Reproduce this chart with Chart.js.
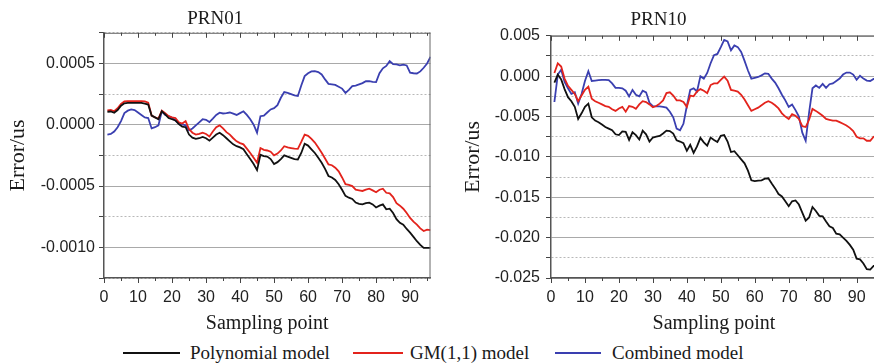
<!DOCTYPE html>
<html><head><meta charset="utf-8">
<script src="https://cdn.jsdelivr.net/npm/chart.js@4.4.1/dist/chart.umd.min.js"></script>
<style>
html,body{margin:0;padding:0;background:#fff;width:874px;height:363px;overflow:hidden;position:relative}
#w1{position:absolute;left:0;top:0;width:440px;height:340px}
#w2{position:absolute;left:440px;top:0;width:440px;height:340px}
.lt{position:absolute;top:341px;font:19px "Liberation Serif",serif;color:#1a1a1a;white-space:nowrap;line-height:24px}
.ls{position:absolute;top:352px;height:2px}
</style></head>
<body>
<div id="w1"><canvas id="c1" width="440" height="340"></canvas></div>
<div id="w2"><canvas id="c2" width="440" height="340"></canvas></div>
<div class="ls" style="left:123px;width:57px;background:#111"></div>
<div class="lt" style="left:190px">Polynomial model</div>
<div class="ls" style="left:353px;width:50px;background:#e3231c"></div>
<div class="lt" style="left:410px">GM(1,1) model</div>
<div class="ls" style="left:555px;width:46px;background:#3a3fb0"></div>
<div class="lt" style="left:612px">Combined model</div>
<script>
// Sampling points 1..96 for both panels
const seriesNames = ['Polynomial model', 'GM(1,1) model', 'Combined model'];
const panelTitles = ['PRN01', 'PRN10'];

// PRN01 errors (us)
const prn01Polynomial = [1.06e-4,1.08e-4,0.98e-4,1.2e-4,1.55e-4,1.75e-4,1.78e-4,1.78e-4,1.78e-4,1.78e-4,
 1.78e-4,1.72e-4,1.65e-4,0.75e-4,0.6e-4,0.45e-4,1.1e-4,0.85e-4,0.55e-4,0.45e-4,
 0.35e-4,0.05e-4,-0.15e-4,-0.2e-4,-0.8e-4,-1.05e-4,-1.15e-4,-1.1e-4,-1.0e-4,-1.1e-4,
 -1.3e-4,-1.05e-4,-0.8e-4,-0.65e-4,-0.85e-4,-1.1e-4,-1.35e-4,-1.6e-4,-1.75e-4,-1.85e-4,
 -2.0e-4,-2.4e-4,-2.8e-4,-3.2e-4,-3.7e-4,-2.45e-4,-2.55e-4,-2.6e-4,-2.8e-4,-3.2e-4,
 -3.05e-4,-2.8e-4,-2.5e-4,-2.6e-4,-2.7e-4,-2.8e-4,-2.83e-4,-2.3e-4,-1.55e-4,-1.7e-4,
 -2.0e-4,-2.3e-4,-2.7e-4,-3.1e-4,-3.6e-4,-4.18e-4,-4.3e-4,-4.5e-4,-4.85e-4,-5.3e-4,
 -5.8e-4,-5.95e-4,-6.05e-4,-6.35e-4,-6.45e-4,-6.5e-4,-6.4e-4,-6.35e-4,-6.5e-4,-6.75e-4,
 -6.6e-4,-6.5e-4,-6.9e-4,-6.85e-4,-7.2e-4,-7.7e-4,-8.0e-4,-8.15e-4,-8.5e-4,-8.8e-4,
 -9.15e-4,-9.5e-4,-9.8e-4,-10.05e-4,-10.05e-4,-10.05e-4];
const prn01GM = [1.17e-4,1.2e-4,1.1e-4,1.35e-4,1.7e-4,1.9e-4,1.93e-4,1.93e-4,1.93e-4,1.93e-4,
 1.93e-4,1.9e-4,1.8e-4,0.75e-4,0.6e-4,0.5e-4,1.15e-4,0.95e-4,0.7e-4,0.6e-4,
 0.55e-4,0.2e-4,0.1e-4,0.3e-4,-0.35e-4,-0.65e-4,-0.8e-4,-0.75e-4,-0.65e-4,-0.75e-4,
 -0.95e-4,-0.55e-4,-0.2e-4,-0.05e-4,-0.3e-4,-0.6e-4,-0.8e-4,-1.1e-4,-1.35e-4,-1.5e-4,
 -1.6e-4,-1.95e-4,-2.3e-4,-2.7e-4,-3.1e-4,-1.9e-4,-2.05e-4,-2.1e-4,-2.2e-4,-2.5e-4,
 -2.35e-4,-2.1e-4,-1.75e-4,-1.85e-4,-1.9e-4,-1.95e-4,-1.96e-4,-1.4e-4,-0.8e-4,-0.9e-4,
 -1.15e-4,-1.45e-4,-1.85e-4,-2.28e-4,-2.75e-4,-3.23e-4,-3.3e-4,-3.5e-4,-3.8e-4,-4.3e-4,
 -4.85e-4,-4.9e-4,-5.0e-4,-5.3e-4,-5.35e-4,-5.4e-4,-5.3e-4,-5.22e-4,-5.35e-4,-5.5e-4,
 -5.3e-4,-5.22e-4,-5.55e-4,-5.6e-4,-5.9e-4,-6.4e-4,-6.6e-4,-6.85e-4,-7.2e-4,-7.6e-4,
 -7.9e-4,-8.15e-4,-8.45e-4,-8.67e-4,-8.55e-4,-8.6e-4];
const prn01Combined = [-0.8e-4,-0.75e-4,-0.55e-4,-0.2e-4,0.3e-4,0.95e-4,1.15e-4,1.25e-4,1.2e-4,1.0e-4,
 0.8e-4,0.6e-4,0.55e-4,-0.3e-4,-0.2e-4,-0.05e-4,1.1e-4,0.8e-4,0.7e-4,0.57e-4,
 0.35e-4,0.1e-4,0.03e-4,-0.05e-4,-0.45e-4,-0.3e-4,-0.05e-4,0.2e-4,0.45e-4,0.4e-4,
 0.22e-4,0.5e-4,0.8e-4,0.98e-4,0.92e-4,0.95e-4,1.0e-4,0.9e-4,0.8e-4,0.95e-4,
 1.1e-4,0.8e-4,0.45e-4,0.0,-0.65e-4,0.7e-4,0.75e-4,1.0e-4,1.25e-4,1.35e-4,
 1.6e-4,2.2e-4,2.66e-4,2.6e-4,2.5e-4,2.4e-4,2.34e-4,3.2e-4,3.97e-4,4.2e-4,
 4.35e-4,4.38e-4,4.3e-4,4.1e-4,3.7e-4,3.34e-4,3.3e-4,3.25e-4,3.1e-4,2.95e-4,
 2.6e-4,2.85e-4,3.15e-4,3.2e-4,3.3e-4,3.4e-4,3.56e-4,3.55e-4,3.5e-4,3.48e-4,
 4.2e-4,4.6e-4,4.8e-4,5.19e-4,4.95e-4,4.92e-4,4.85e-4,4.9e-4,4.84e-4,4.25e-4,
 4.2e-4,4.18e-4,4.35e-4,4.65e-4,5.0e-4,5.54e-4];

// PRN10 errors (us)
const prn10Polynomial = [-0.8e-3,0.2e-3,-0.4e-3,-1.6e-3,-2.6e-3,-3.1e-3,-3.8e-3,-5.3e-3,-4.6e-3,-3.8e-3,
 -3.4e-3,-5.1e-3,-5.5e-3,-5.7e-3,-6.0e-3,-6.3e-3,-6.5e-3,-6.7e-3,-7.2e-3,-7.3e-3,
 -6.85e-3,-6.9e-3,-7.9e-3,-6.95e-3,-7.3e-3,-7.85e-3,-6.75e-3,-7.2e-3,-8.1e-3,-7.6e-3,
 -7.5e-3,-7.4e-3,-7.1e-3,-6.75e-3,-6.8e-3,-7.1e-3,-7.95e-3,-8.1e-3,-8.3e-3,-9.25e-3,
 -8.5e-3,-9.5e-3,-8.7e-3,-7.65e-3,-8.2e-3,-8.6e-3,-7.6e-3,-7.9e-3,-8.15e-3,-7.4e-3,
 -7.3e-3,-8.1e-3,-9.4e-3,-9.3e-3,-9.8e-3,-10.3e-3,-10.8e-3,-11.7e-3,-12.9e-3,-13.0e-3,
 -12.95e-3,-12.9e-3,-12.7e-3,-12.65e-3,-13.3e-3,-13.9e-3,-14.6e-3,-14.9e-3,-15.5e-3,-16.1e-3,
 -15.5e-3,-15.4e-3,-15.9e-3,-16.9e-3,-17.9e-3,-17.5e-3,-16.2e-3,-16.7e-3,-17.3e-3,-17.35e-3,
 -18.0e-3,-18.6e-3,-18.8e-3,-19.5e-3,-19.6e-3,-20.0e-3,-20.4e-3,-20.9e-3,-21.5e-3,-22.6e-3,
 -22.7e-3,-23.2e-3,-23.9e-3,-23.95e-3,-23.5e-3,-23.5e-3];
const prn10GM = [0.4e-3,1.6e-3,1.2e-3,-0.3e-3,-1.2e-3,-1.7e-3,-2.2e-3,-3.1e-3,-2.4e-3,-1.7e-3,
 -1.3e-3,-2.8e-3,-3.1e-3,-3.3e-3,-3.5e-3,-3.7e-3,-3.8e-3,-4.1e-3,-4.3e-3,-4.0e-3,
 -3.8e-3,-4.4e-3,-3.7e-3,-3.8e-3,-4.05e-3,-3.5e-3,-3.1e-3,-3.2e-3,-3.5e-3,-3.85e-3,
 -3.7e-3,-3.4e-3,-3.0e-3,-2.1e-3,-2.0e-3,-2.4e-3,-3.0e-3,-3.0e-3,-3.2e-3,-3.8e-3,
 -2.4e-3,-2.5e-3,-1.9e-3,-1.6e-3,-1.8e-3,-2.1e-3,-1.1e-3,-0.9e-3,-0.9e-3,-0.45e-3,
 -0.05e-3,-0.55e-3,-1.7e-3,-1.8e-3,-1.9e-3,-2.3e-3,-2.9e-3,-3.6e-3,-4.3e-3,-4.1e-3,
 -3.9e-3,-3.6e-3,-3.3e-3,-3.1e-3,-3.3e-3,-3.6e-3,-4.0e-3,-4.6e-3,-5.0e-3,-5.3e-3,
 -4.7e-3,-4.9e-3,-5.3e-3,-6.2e-3,-6.3e-3,-5.4e-3,-4.05e-3,-4.3e-3,-4.6e-3,-4.9e-3,
 -5.3e-3,-5.4e-3,-5.5e-3,-5.5e-3,-5.7e-3,-5.9e-3,-6.1e-3,-6.4e-3,-6.8e-3,-7.5e-3,
 -7.7e-3,-7.7e-3,-8.0e-3,-8.0e-3,-7.5e-3,-7.4e-3];
const prn10Combined = [-3.2e-3,0.2e-3,0.8e-3,-0.7e-3,-1.5e-3,-2.2e-3,-2.0e-3,-3.4e-3,-2.2e-3,-0.6e-3,
 0.6e-3,-0.6e-3,-0.55e-3,-0.5e-3,-0.45e-3,-0.45e-3,-0.5e-3,-0.9e-3,-1.45e-3,-1.45e-3,
 -1.5e-3,-1.8e-3,-2.5e-3,-1.7e-3,-2.3e-3,-2.5e-3,-1.8e-3,-2.0e-3,-3.3e-3,-3.7e-3,
 -3.75e-3,-3.75e-3,-3.8e-3,-3.9e-3,-4.4e-3,-5.1e-3,-6.5e-3,-6.7e-3,-5.9e-3,-3.7e-3,
 -1.7e-3,-1.5e-3,-1.9e-3,0.0,-0.3e-3,0.4e-3,1.6e-3,2.6e-3,2.75e-3,3.6e-3,
 4.5e-3,4.3e-3,3.2e-3,3.8e-3,3.6e-3,3.0e-3,1.9e-3,0.7e-3,-0.3e-3,-0.2e-3,
 -0.1e-3,0.1e-3,0.35e-3,0.3e-3,-0.3e-3,-0.8e-3,-1.5e-3,-2.3e-3,-3.0e-3,-3.8e-3,
 -3.5e-3,-4.2e-3,-5.0e-3,-7.0e-3,-8.0e-3,-4.5e-3,-1.5e-3,-1.15e-3,-1.45e-3,-0.95e-3,
 -1.45e-3,-1.0e-3,-0.9e-3,-0.6e-3,-0.3e-3,0.2e-3,0.45e-3,0.45e-3,0.2e-3,-0.45e-3,
 0.05e-3,-0.3e-3,-0.55e-3,-0.6e-3,-0.35e-3,-0.3e-3];

// axis settings
const xTickStep = 5, xLabelStep = 10, xMax = 96;
const prn01YRange = [-0.00125, 0.00075], prn01YStep = 0.00025, prn01YLabelStep = 0.0005;
const prn10YRange = [-0.025, 0.005], prn10YStep = 0.0025, prn10YLabelStep = 0.005;

const colors = ['#111111', '#e3231c', '#3a3fb0'];

const framePlugin = {
  id: 'frame',
  afterDraw(chart) {
    const {ctx, chartArea: a, scales: {x}} = chart;
    ctx.save();
    ctx.strokeStyle = '#666';
    ctx.lineWidth = 1;
    ctx.beginPath();
    ctx.moveTo(a.left, a.top + 0.5); ctx.lineTo(a.right, a.top + 0.5);
    ctx.moveTo(a.right - 0.5, a.top); ctx.lineTo(a.right - 0.5, a.bottom);
    ctx.stroke();
    ctx.strokeStyle = '#444';
    x.ticks.forEach(t => {
      const px = Math.round(x.getPixelForValue(t.value)) + 0.5;
      const major = Math.round(t.value) % xLabelStep === 0;
      const len = major ? 5 : 3;
      ctx.beginPath();
      ctx.moveTo(px, a.bottom); ctx.lineTo(px, a.bottom + len);
      ctx.moveTo(px, a.top); ctx.lineTo(px, a.top + len);
      ctx.stroke();
    });
    ctx.restore();
  }
};

function makeChart(id, title, data3, yRange, yStep, yLabelStep, decimals, yAxisWidth, yTitlePad, titlePad, rightPad, labelPad) {
  const isMajor = v => Math.abs(Math.round(v / yStep)) % Math.round(yLabelStep / yStep) === 0;
  return new Chart(document.getElementById(id), {
    type: 'line',
    data: {
      datasets: data3.map((arr, i) => ({
        label: seriesNames[i],
        data: arr.map((v, k) => ({x: k + 1, y: v})),
        borderColor: colors[i],
        borderWidth: 1.8,
        pointRadius: 0,
        tension: 0,
        fill: false
      }))
    },
    options: {
      responsive: false,
      devicePixelRatio: 1,
      animation: false,
      layout: {padding: {left: 0, right: rightPad, top: 0, bottom: 0}},
      plugins: {
        legend: {display: false},
        tooltip: {enabled: false},
        title: {display: true, text: title, color: '#1a1a1a',
          font: {family: 'Liberation Serif', size: 19, weight: 'normal'},
          padding: titlePad}
      },
      scales: {
        x: {
          type: 'linear', min: 0, max: xMax,
          afterFit(s) { s.height = 62; },
          ticks: {stepSize: xTickStep, includeBounds: false, autoSkip: false, maxRotation: 0,
            color: '#222', padding: 4,
            font: {family: 'Liberation Sans', size: 16},
            callback: v => (Math.round(v) % xLabelStep === 0 ? String(Math.round(v)) : '')},
          grid: {display: true, drawOnChartArea: false, color: 'rgba(0,0,0,0)', tickColor: 'rgba(0,0,0,0)', tickLength: 6},
          border: {display: true, color: '#555', width: 1.5},
          title: {display: true, text: 'Sampling point', color: '#1a1a1a',
            font: {family: 'Liberation Serif', size: 20, weight: 'normal'}, padding: {top: 4, bottom: 4}}
        },
        y: {
          min: yRange[0], max: yRange[1],
          afterFit(s) { s.width = yAxisWidth; },
          ticks: {stepSize: yStep, autoSkip: false, color: '#222', padding: labelPad,
            font: {family: 'Liberation Sans', size: 16},
            callback: v => (isMajor(v) ? (Math.abs(v) < 1e-12 ? 0 : v).toFixed(decimals) : '')},
          grid: {
            color: ctx => (ctx.tick && isMajor(ctx.tick.value)) ? '#a9a9a9' : '#b8b8b8',
            lineWidth: 1,
            tickColor: '#444',
            tickLength: 5
          },
          border: {display: true, color: '#555', width: 1.5,
            dash: ctx => (ctx.tick && isMajor(ctx.tick.value)) ? [] : [2, 2]},
          title: {display: true, text: 'Error/us', color: '#1a1a1a',
            font: {family: 'Liberation Serif', size: 22, weight: 'normal'}, padding: {top: yTitlePad, bottom: 0}}
        }
      }
    },
    plugins: [framePlugin]
  });
}

makeChart('c1', panelTitles[0], [prn01Polynomial, prn01GM, prn01Combined],
  prn01YRange, prn01YStep, prn01YLabelStep, 4, 104, 5, {top: 8, bottom: 2}, 9.5, 4);
makeChart('c2', panelTitles[1], [prn10Polynomial, prn10GM, prn10Combined],
  prn10YRange, prn10YStep, prn10YLabelStep, 3, 111, 20, {top: 9, bottom: 4}, 3, 6);
</script>
</body></html>
